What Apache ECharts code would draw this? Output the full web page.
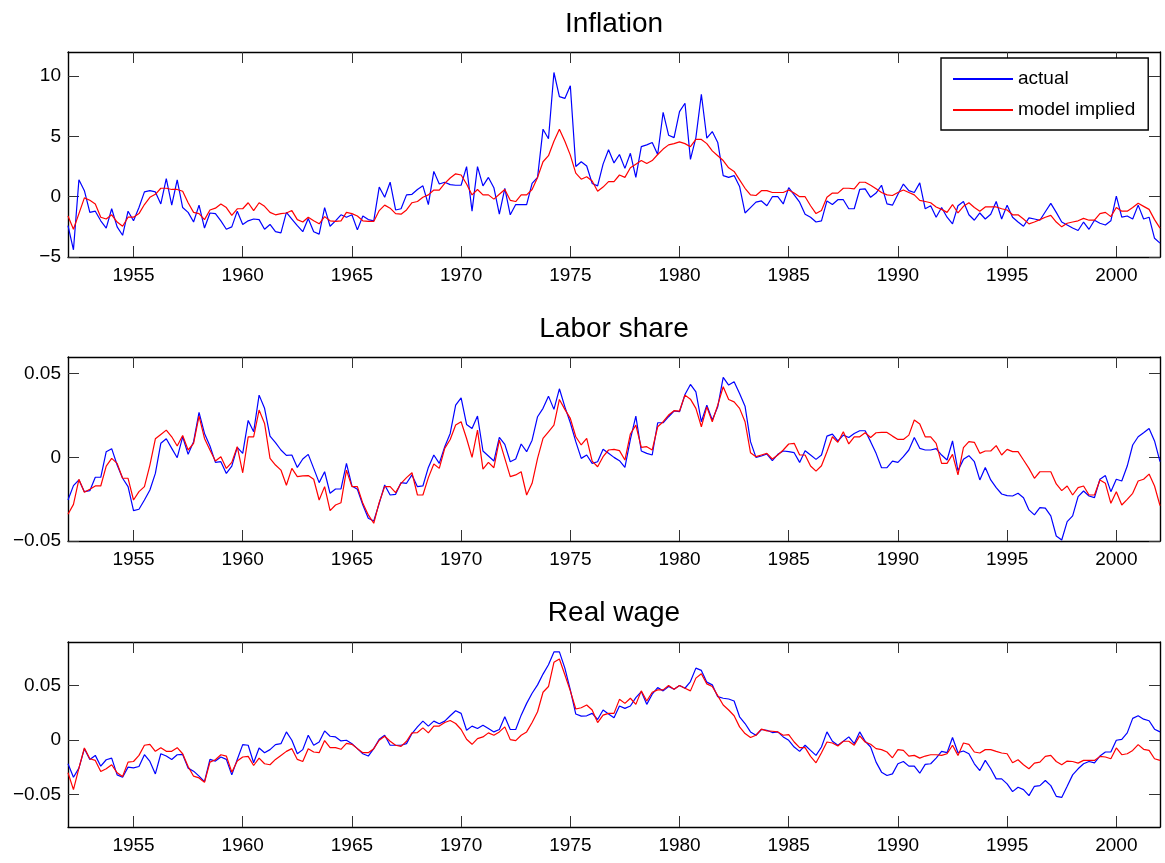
<!DOCTYPE html>
<html>
<head>
<meta charset="utf-8">
<script src="https://cdn.jsdelivr.net/npm/echarts@6/dist/echarts.min.js"></script>
<style>
html,body{margin:0;padding:0;background:#fff;}
#chart{width:1165px;height:863px;}
</style>
</head>
<body>
<div id="chart"></div>
<script>
// quarterly observations starting 1952Q1
const startYear = 1952;
const seriesNames = ['actual', 'model implied'];
const panelTitles = ['Inflation', 'Labor share', 'Real wage'];
const yearTicks = [1955, 1960, 1965, 1970, 1975, 1980, 1985, 1990, 1995, 2000];
const inflationTicks = [-5, 0, 5, 10];
const laborTicks = [-0.05, 0, 0.05];
const wageTicks = [-0.05, 0, 0.05];

const inflationActual = [
-2.4,-4.4,1.4,0.5, -1.3,-1.2,-2.0,-2.6, -1.0,-2.5,-3.2,-1.2, -2.0,-0.9,0.4,0.5,
0.4,-0.6,1.5,-0.7, 1.4,-0.9,-1.3,-2.1, -0.7,-2.6,-1.35,-1.4, -2.0,-2.7,-2.5,-1.2,
-2.3,-2.0,-1.85,-1.9, -2.7,-2.3,-2.9,-3.0, -1.3,-1.85,-2.4,-2.9, -1.8,-2.9,-3.1,-0.9,
-2.45,-2.0,-1.5,-1.7, -1.5,-2.75,-1.6,-1.9, -2.0,0.8,-0.05,1.2, -1.1,-1.0,0.15,0.2,
0.6,0.9,-0.65,2.1, 1.05,1.2,1.0,0.95, 0.95,2.5,-1.2,2.5, 0.9,1.6,0.75,-1.45,
0.7,-1.5,-0.65,-0.65, -0.65,1.1,1.6,5.6, 4.8,10.3,8.3,8.15, 9.2,2.5,2.9,2.55,
1.1,0.9,2.7,3.9, 2.8,3.5,2.35,3.6, 1.6,4.15,4.3,4.5, 3.5,7.0,5.1,4.9,
7.05,7.75,3.1,4.9, 8.5,4.85,5.4,4.5, 1.75,1.6,1.75,0.85, -1.35,-0.9,-0.45,-0.35,
-0.75,0,0,-0.6, 0.75,0.15,-0.45,-1.45, -1.7,-2.1,-2.0,-0.35, -0.65,-0.25,-0.25,-1.0,
-1.0,0.6,0.65,-0.05, 0.3,0.95,-0.6,-0.7, 0.2,1.05,0.5,0.35, 1.15,-1.0,-0.75,-1.7,
-0.9,-1.7,-2.25,-0.75, -0.4,-1.5,-1.95,-1.35, -1.85,-1.45,-0.4,-1.85, -0.7,-1.7,-2.1,-2.45,
-1.75,-1.85,-1.95,-1.25, -0.55,-1.3,-2.1,-2.35, -2.6,-2.8,-2.1,-2.7, -1.95,-2.2,-2.35,-2.0,
0.05,-1.7,-1.6,-1.85, -0.7,-1.85,-1.7,-3.45, -3.85
];
const inflationModel = [
-1.6,-2.7,-1.4,-0.1, -0.3,-0.6,-1.7,-1.85, -1.5,-2.1,-2.45,-1.7, -1.7,-1.4,-0.65,-0.05,
0.2,0.7,0.7,0.6, 0.6,0.45,-0.5,-1.3, -1.4,-1.9,-1.1,-0.95, -0.6,-0.9,-1.55,-1.0,
-1.0,-0.5,-1.15,-0.5, -0.8,-1.3,-1.5,-1.4, -1.35,-1.15,-1.9,-2.1, -1.7,-2.0,-2.25,-1.65,
-2.0,-2.05,-2.0,-1.3, -1.4,-1.6,-2.0,-2.05, -2.05,-1.15,-0.7,-0.95, -1.4,-1.45,-1.1,-0.5,
-0.4,-0.05,0.15,0.55, 0.55,1.1,1.55,1.9, 1.8,1.05,0.15,0.6, 0.15,0.15,-0.2,0.2,
0.6,-0.3,-0.4,0.15, 0.15,0.6,1.6,2.9, 3.4,4.6,5.6,4.6, 3.45,1.95,1.45,1.65,
1.3,0.45,0.8,1.25, 1.25,1.8,1.6,2.4, 2.7,3.0,2.75,3.0, 3.5,3.95,4.3,4.4,
4.55,4.4,4.15,4.75, 4.75,4.4,3.8,3.4, 3.0,2.4,2.1,1.4, 0.7,0.15,0.1,0.5,
0.5,0.35,0.35,0.35, 0.55,0.3,0,0, -0.75,-1.4,-1.15,-0.05, 0.3,0.3,0.7,0.7,
0.65,1.2,1.2,0.95, 0.65,0.35,0.15,0.1, 0.35,0.55,0.35,0.15, -0.3,-0.4,-0.5,-0.85,
-1.05,-1.3,-0.65,-1.35, -0.8,-0.5,-0.9,-1.2, -0.85,-0.85,-0.85,-1.0, -1.1,-1.5,-1.5,-1.85,
-2.25,-2.1,-1.9,-1.7, -1.55,-2.1,-2.5,-2.2, -2.1,-2.0,-1.8,-1.95, -1.95,-1.4,-1.3,-1.65,
-0.9,-1.2,-1.2,-0.9, -0.55,-0.8,-1.05,-1.9, -2.6
];
const laborActual = [
-0.0255,-0.0169,-0.0135,-0.0205, -0.0199,-0.0119,-0.0119,0.0034, 0.0052,-0.0046,-0.0125,-0.0175,
-0.0318,-0.0310,-0.0255,-0.0195, -0.0096,0.0084,0.0111,0.0054, -0.0002,0.0123,0.0018,0.0094,
0.0269,0.0143,0.0068,-0.0030, -0.0026,-0.0096,-0.0052,0.0060, 0.0024,0.0221,0.0153,0.0372,
0.0293,0.0127,0.0088,0.0044, 0.0012,0.0014,-0.0060,-0.0010, 0.0018,-0.0066,-0.0151,-0.0086,
-0.0215,-0.0189,-0.0189,-0.0036, -0.0171,-0.0191,-0.0285,-0.0364, -0.0380,-0.0275,-0.0165,-0.0225,
-0.0221,-0.0151,-0.0155,-0.0105, -0.0175,-0.0171,-0.0060,0.0014, -0.0036,0.0064,0.0143,0.0312,
0.0356,0.0197,0.0173,0.0247, 0.0038,0.0008,-0.0022,0.0119, 0.0078,-0.0026,-0.0010,0.0080,
0.0034,0.0103,0.0243,0.0293, 0.0366,0.0287,0.0410,0.0302, 0.0207,0.0094,-0.0006,0.0014,
-0.0036,-0.0026,0.0048,0.0024, 0.0000,-0.0020,-0.0060,0.0108, 0.0247,0.0038,0.0024,0.0014,
0.0207,0.0207,0.0243,0.0277, 0.0273,0.0376,0.0436,0.0392, 0.0213,0.0312,0.0223,0.0302,
0.0478,0.0432,0.0452,0.0382, 0.0306,0.0094,0.0000,0.0008, 0.0020,-0.0020,0.0018,0.0038,
0.0034,0.0028,-0.0030,0.0040, 0.0014,-0.0012,0.0014,0.0127, 0.0139,0.0098,0.0133,0.0119,
0.0143,0.0159,0.0159,0.0094, 0.0024,-0.0062,-0.0062,-0.0022, -0.0030,0.0004,0.0044,0.0119,
0.0054,0.0044,0.0044,0.0052, 0.0014,-0.0016,0.0098,-0.0080, -0.0012,0.0010,-0.0026,-0.0135,
-0.0060,-0.0135,-0.0181,-0.0219, -0.0229,-0.0231,-0.0215,-0.0241, -0.0314,-0.0344,-0.0300,-0.0304,
-0.0350,-0.0470,-0.0494,-0.0384, -0.0350,-0.0235,-0.0201,-0.0231, -0.0241,-0.0131,-0.0109,-0.0205,
-0.0131,-0.0141,-0.0052,0.0074, 0.0123,0.0147,0.0173,0.0098, -0.0026
];
const laborModel = [
-0.0340,-0.0281,-0.0131,-0.0209, -0.0191,-0.0171,-0.0171,-0.0052, -0.0006,-0.0036,-0.0125,-0.0125,
-0.0255,-0.0205,-0.0175,-0.0046, 0.0111,0.0137,0.0163,0.0123, 0.0068,0.0131,0.0044,0.0084,
0.0247,0.0113,0.0044,-0.0022, 0.0004,-0.0066,-0.0030,0.0064, -0.0092,0.0123,0.0123,0.0283,
0.0203,-0.0006,-0.0046,-0.0076, -0.0167,-0.0066,-0.0115,-0.0111, -0.0109,-0.0131,-0.0255,-0.0175,
-0.0318,-0.0285,-0.0271,-0.0076, -0.0175,-0.0175,-0.0275,-0.0344, -0.0394,-0.0269,-0.0175,-0.0175,
-0.0211,-0.0155,-0.0121,-0.0092, -0.0225,-0.0225,-0.0121,-0.0040, -0.0066,0.0054,0.0107,0.0193,
0.0213,0.0113,0.0000,0.0163, -0.0070,-0.0030,-0.0062,0.0103, -0.0006,-0.0115,-0.0105,-0.0086,
-0.0225,-0.0155,-0.0006,0.0113, 0.0153,0.0193,0.0346,0.0287, 0.0233,0.0123,0.0074,0.0113,
-0.0022,-0.0056,0.0004,0.0044, 0.0048,0.0040,-0.0016,0.0140, 0.0193,0.0060,0.0064,0.0044,
0.0183,0.0213,0.0253,0.0279, 0.0277,0.0372,0.0348,0.0293, 0.0183,0.0302,0.0213,0.0312,
0.0422,0.0346,0.0332,0.0293, 0.0213,0.0028,0.0004,0.0014, 0.0024,-0.0010,0.0014,0.0044,
0.0080,0.0084,0.0014,0.0014, -0.0052,-0.0082,-0.0050,0.0034, 0.0123,0.0090,0.0153,0.0080,
0.0123,0.0123,0.0147,0.0119, 0.0147,0.0149,0.0149,0.0127, 0.0107,0.0107,0.0133,0.0223,
0.0199,0.0123,0.0123,0.0084, -0.0036,-0.0036,0.0018,-0.0105, 0.0058,0.0094,0.0090,0.0024,
0.0038,0.0038,0.0070,0.0014, 0.0048,0.0034,0.0034,-0.0016, -0.0066,-0.0125,-0.0086,-0.0086,
-0.0086,-0.0159,-0.0199,-0.0171, -0.0225,-0.0181,-0.0171,-0.0225, -0.0225,-0.0135,-0.0155,-0.0275,
-0.0205,-0.0285,-0.0251,-0.0215, -0.0141,-0.0131,-0.0100,-0.0171, -0.0289
];
const wageActual = [
-0.0219,-0.0343,-0.0259,-0.0080, -0.0179,-0.0142,-0.0241,-0.0182, -0.0167,-0.0321,-0.0343,-0.0250,
-0.0256,-0.0244,-0.0136,-0.0198, -0.0312,-0.0127,-0.0148,-0.0179, -0.0136,-0.0133,-0.0259,-0.0287,
-0.0333,-0.0383,-0.0179,-0.0194, -0.0157,-0.0179,-0.0321,-0.0179, -0.0043,-0.0049,-0.0210,-0.0074,
-0.0117,-0.0089,-0.0043,-0.0034, 0.0074,-0.0003,-0.0127,-0.0089, 0.0043,-0.0049,-0.0019,0.0083,
0.0034,0.0028,-0.0009,-0.0003, -0.0034,-0.0080,-0.0127,-0.0148, -0.0080,0.0006,0.0043,-0.0049,
-0.0049,-0.0049,-0.0034,0.0059, 0.0120,0.0173,0.0127,0.0173, 0.0148,0.0173,0.0222,0.0268,
0.0244,0.0089,0.0127,0.0105, 0.0136,0.0105,0.0074,0.0096, 0.0213,0.0096,0.0096,0.0228,
0.0336,0.0429,0.0506,0.0605, 0.0691,0.0809,0.0809,0.0660, 0.0460,0.0238,0.0219,0.0222,
0.0244,0.0188,0.0275,0.0238, 0.0204,0.0312,0.0290,0.0312, 0.0389,0.0444,0.0327,0.0420,
0.0481,0.0451,0.0491,0.0466, 0.0500,0.0475,0.0537,0.0660, 0.0639,0.0531,0.0506,0.0398,
0.0383,0.0376,0.0358,0.0213, 0.0151,0.0074,0.0043,0.0096, 0.0089,0.0068,0.0074,0.0028,
-0.0003,-0.0065,-0.0105,-0.0049, -0.0096,-0.0142,-0.0065,0.0074, -0.0012,-0.0049,-0.0012,0.0028,
-0.0034,0.0074,-0.0012,-0.0065, -0.0204,-0.0296,-0.0327,-0.0312, -0.0219,-0.0198,-0.0241,-0.0241,
-0.0306,-0.0225,-0.0219,-0.0167, -0.0105,-0.0117,0.0022,-0.0117, -0.0102,-0.0127,-0.0219,-0.0281,
-0.0188,-0.0265,-0.0358,-0.0358, -0.0404,-0.0475,-0.0435,-0.0457, -0.0512,-0.0426,-0.0420,-0.0373,
-0.0420,-0.0518,-0.0528,-0.0426, -0.0321,-0.0265,-0.0219,-0.0198, -0.0210,-0.0148,-0.0111,-0.0111,
-0.0003,0.0006,0.0065,0.0198, 0.0222,0.0191,0.0176,0.0099, 0.0074
];
const wageModel = [
-0.0302,-0.0457,-0.0259,-0.0074, -0.0173,-0.0188,-0.0290,-0.0265, -0.0228,-0.0302,-0.0336,-0.0204,
-0.0198,-0.0142,-0.0049,-0.0040, -0.0105,-0.0071,-0.0105,-0.0105, -0.0071,-0.0127,-0.0244,-0.0333,
-0.0349,-0.0389,-0.0204,-0.0182, -0.0136,-0.0148,-0.0296,-0.0194, -0.0157,-0.0151,-0.0235,-0.0167,
-0.0219,-0.0228,-0.0179,-0.0142, -0.0105,-0.0080,-0.0179,-0.0198, -0.0080,-0.0111,-0.0117,-0.0006,
-0.0071,-0.0071,-0.0086,-0.0031, -0.0040,-0.0080,-0.0117,-0.0117, -0.0080,-0.0003,0.0034,-0.0012,
-0.0049,-0.0059,-0.0012,0.0065, 0.0068,0.0111,0.0065,0.0127, 0.0127,0.0160,0.0179,0.0151,
0.0096,0.0006,-0.0040,0.0012, 0.0028,0.0065,0.0043,0.0074, 0.0120,0.0003,-0.0006,0.0043,
0.0074,0.0160,0.0259,0.0438, 0.0491,0.0713,0.0744,0.0599, 0.0451,0.0284,0.0296,0.0321,
0.0275,0.0160,0.0228,0.0244, 0.0244,0.0373,0.0336,0.0383, 0.0327,0.0451,0.0358,0.0438,
0.0460,0.0460,0.0500,0.0466, 0.0500,0.0475,0.0451,0.0568, 0.0608,0.0515,0.0491,0.0407,
0.0321,0.0275,0.0222,0.0120, 0.0059,0.0022,0.0043,0.0099, 0.0083,0.0080,0.0074,0.0043,
0.0049,-0.0019,-0.0071,-0.0071, -0.0151,-0.0210,-0.0117,-0.0019, -0.0028,-0.0056,-0.0012,-0.0012,
-0.0049,0.0037,-0.0019,-0.0040, -0.0080,-0.0089,-0.0111,-0.0164, -0.0089,-0.0096,-0.0148,-0.0142,
-0.0167,-0.0148,-0.0136,-0.0136, -0.0142,-0.0127,-0.0049,-0.0142, -0.0028,-0.0040,-0.0111,-0.0120,
-0.0089,-0.0089,-0.0105,-0.0120, -0.0127,-0.0210,-0.0182,-0.0228, -0.0265,-0.0213,-0.0204,-0.0151,
-0.0142,-0.0198,-0.0228,-0.0194, -0.0198,-0.0213,-0.0188,-0.0188, -0.0188,-0.0151,-0.0157,-0.0173,
-0.0074,-0.0136,-0.0127,-0.0096, -0.0043,-0.0086,-0.0096,-0.0173, -0.0188
];

function toPairs(arr) { return arr.map((v, i) => [startYear + i * 0.25, v]); }
function fmt(v) { return String(v).replace('-', '\u2212'); }
function fmtYear(v) { return String(Math.round(v)); }

const FONT = 'Liberation Sans, Arial, Helvetica, sans-serif';
const panels = [
  { title: panelTitles[0], top: 52, height: 205, min: -5, max: 12, ticks: inflationTicks, a: inflationActual, m: inflationModel },
  { title: panelTitles[1], top: 357, height: 184, min: -0.05, max: 0.06, ticks: laborTicks, a: laborActual, m: laborModel },
  { title: panelTitles[2], top: 642, height: 185, min: -0.08, max: 0.09, ticks: wageTicks, a: wageActual, m: wageModel }
];
const titleTops = [5, 310, 594];
const lineC = '#000';
const tickStyle = { show: true, inside: true, length: 11, lineStyle: { color: '#333', width: 1 } };

const grid = [], xAxis = [], yAxis = [], series = [], title = [];
panels.forEach((p, k) => {
  grid.push({ left: 68, right: 5, top: p.top, height: p.height });
  title.push({ text: p.title, left: 609, textAlign: 'center', top: titleTops[k],
    textStyle: { fontFamily: FONT, fontSize: 28, fontWeight: 'normal', color: '#000' } });
  const xBase = { type: 'value', gridIndex: k, min: 1952, max: 2002, splitLine: { show: false },
    axisLine: { show: true, onZero: false, lineStyle: { color: lineC, width: 1.4 } } };
  xAxis.push(Object.assign({}, xBase, { position: 'bottom',
    axisTick: Object.assign({}, tickStyle, { customValues: yearTicks }),
    axisLabel: { show: true, customValues: yearTicks, margin: 9, fontFamily: FONT, fontSize: 19, color: '#000', formatter: fmtYear } }));
  xAxis.push(Object.assign({}, xBase, { position: 'top',
    axisTick: Object.assign({}, tickStyle, { customValues: yearTicks }),
    axisLabel: { show: false } }));
  const yBase = { type: 'value', gridIndex: k, min: p.min, max: p.max, splitLine: { show: false },
    axisLine: { show: true, onZero: false, lineStyle: { color: lineC, width: 1.4 } } };
  yAxis.push(Object.assign({}, yBase, { position: 'left',
    axisTick: Object.assign({}, tickStyle, { customValues: p.ticks }),
    axisLabel: { show: true, customValues: p.ticks, margin: 7, fontFamily: FONT, fontSize: 19, color: '#000', formatter: fmt } }));
  yAxis.push(Object.assign({}, yBase, { position: 'right',
    axisTick: Object.assign({}, tickStyle, { customValues: p.ticks }),
    axisLabel: { show: false } }));
  series.push({ name: seriesNames[0], type: 'line', xAxisIndex: 2 * k, yAxisIndex: 2 * k,
    data: toPairs(p.a), showSymbol: false, symbol: 'none', animation: false,
    lineStyle: { color: '#0000ff', width: 1.2 }, itemStyle: { color: '#0000ff' } });
  series.push({ name: seriesNames[1], type: 'line', xAxisIndex: 2 * k, yAxisIndex: 2 * k,
    data: toPairs(p.m), showSymbol: false, symbol: 'none', animation: false,
    lineStyle: { color: '#ff0000', width: 1.2 }, itemStyle: { color: '#ff0000' } });
});

const chart = echarts.init(document.getElementById('chart'), null, { renderer: 'canvas' });
chart.setOption({
  backgroundColor: '#fff',
  animation: false,
  title: title,
  legend: {
    data: seriesNames, orient: 'vertical', left: 941, top: 58,
    padding: [10, 13, 9, 12], itemGap: 9, itemWidth: 60, itemHeight: 2,
    icon: 'rect', backgroundColor: '#fff', borderColor: '#000', borderWidth: 1.4,
    textStyle: { fontFamily: FONT, fontSize: 19, color: '#000', lineHeight: 22 },
    selectedMode: false
  },
  grid: grid, xAxis: xAxis, yAxis: yAxis, series: series
});
</script>
</body>
</html>
